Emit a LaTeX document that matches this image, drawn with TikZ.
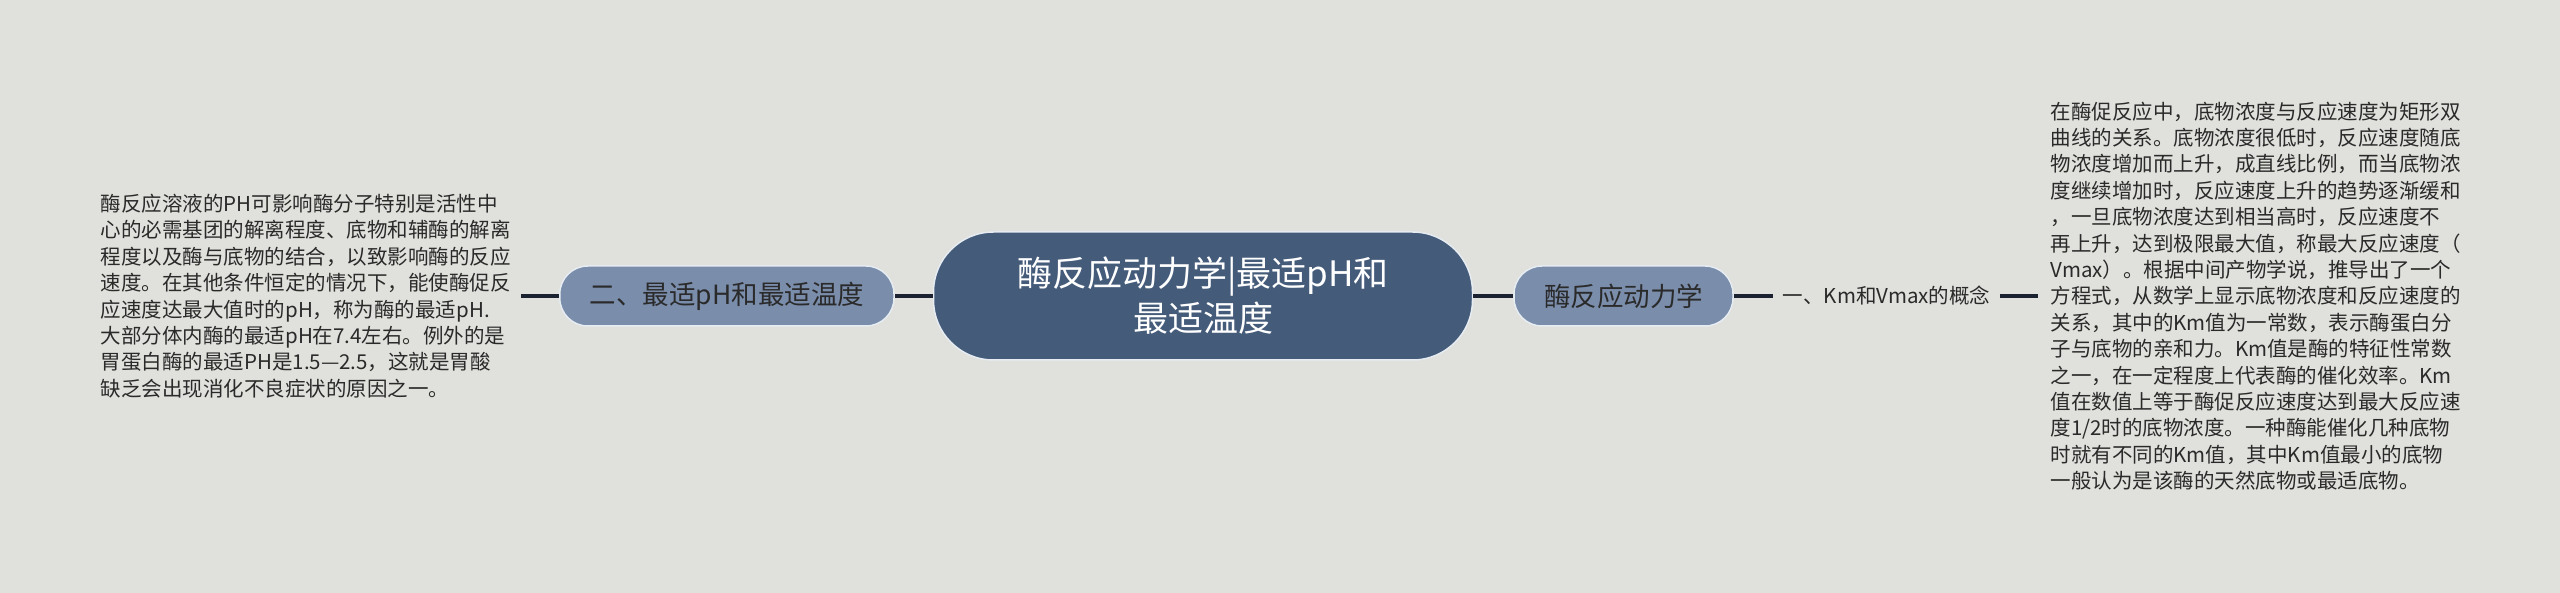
\documentclass[tikz,border=0pt]{standalone}
\usepackage{fontspec}
\newfontfamily\cjk{Noto Sans CJK SC}
\usepackage{tikz}
\usetikzlibrary{positioning}

\definecolor{bgcol}{HTML}{E0E1DC}
\definecolor{rootcol}{HTML}{445B7A}
\definecolor{subcol}{HTML}{7A8DAB}
\definecolor{edgecol}{HTML}{E6ECF2}
\definecolor{linecol}{HTML}{1A2232}
\definecolor{txtcol}{HTML}{2A2A2A}

\begin{document}
\begin{tikzpicture}[x=1pt, y=-1pt,
    rootnode/.style={rectangle, draw=edgecol, line width=1.5pt, fill=rootcol, rounded corners=60pt, text=white, align=center, font=\cjk\fontsize{35}{45}\selectfont, minimum width=539pt, minimum height=128pt},
    subnode/.style={rectangle, draw=edgecol, line width=1.5pt, fill=subcol, rounded corners=28pt, text=txtcol, font=\cjk\fontsize{26.5}{32}\selectfont, inner xsep=30pt, minimum height=60pt},
    labelnode/.style={text=txtcol, font=\cjk\fontsize{20.5}{26.4}\selectfont, inner xsep=10pt},
    leafnode/.style={text=txtcol, align=left, font=\cjk\fontsize{20.5}{26.4}\selectfont, inner xsep=12pt},
    link/.style={draw=linecol, line width=4pt}]
    \path[use as bounding box, fill=bgcol] (0,0) rectangle (2560,593);

    % Root
    \node[rootnode] (root) at (1203,296) {酶反应动力学|最适pH和\\最适温度};

    % Right branch
    \node[subnode, right=40pt of root] (kinetics) {酶反应动力学};
    \node[labelnode, right=39pt of kinetics] (kmvmax) {一、Km和Vmax的概念};
    \node[leafnode, right=38pt of kmvmax] (kmtext) {在酶促反应中，底物浓度与反应速度为矩形双\\
曲线的关系。底物浓度很低时，反应速度随底\\
物浓度增加而上升，成直线比例，而当底物浓\\
度继续增加时，反应速度上升的趋势逐渐缓和\\
，一旦底物浓度达到相当高时，反应速度不\\
再上升，达到极限最大值，称最大反应速度（\\
Vmax）。根据中间产物学说，推导出了一个\\
方程式，从数学上显示底物浓度和反应速度的\\
关系，其中的Km值为一常数，表示酶蛋白分\\
子与底物的亲和力。Km值是酶的特征性常数\\
之一，在一定程度上代表酶的催化效率。Km\\
值在数值上等于酶促反应速度达到最大反应速\\
度1/2时的底物浓度。一种酶能催化几种底物\\
时就有不同的Km值，其中Km值最小的底物\\
一般认为是该酶的天然底物或最适底物。};

    % Left branch
    \node[subnode, left=38pt of root] (optimum) {二、最适pH和最适温度};
    \node[leafnode, inner xsep=10pt, left=38pt of optimum] (phtext) {酶反应溶液的PH可影响酶分子特别是活性中\\
心的必需基团的解离程度、底物和辅酶的解离\\
程度以及酶与底物的结合，以致影响酶的反应\\
速度。在其他条件恒定的情况下，能使酶促反\\
应速度达最大值时的pH，称为酶的最适pH.\\
大部分体内酶的最适pH在7.4左右。例外的是\\
胃蛋白酶的最适PH是1.5—2.5，这就是胃酸\\
缺乏会出现消化不良症状的原因之一。};

    % Links
    \draw[link] (root) -- (kinetics);
    \draw[link] (kinetics) -- (kmvmax);
    \draw[link] (kmvmax) -- (kmtext);
    \draw[link] (root) -- (optimum);
    \draw[link] (optimum) -- (phtext);
\end{tikzpicture}
\end{document}
